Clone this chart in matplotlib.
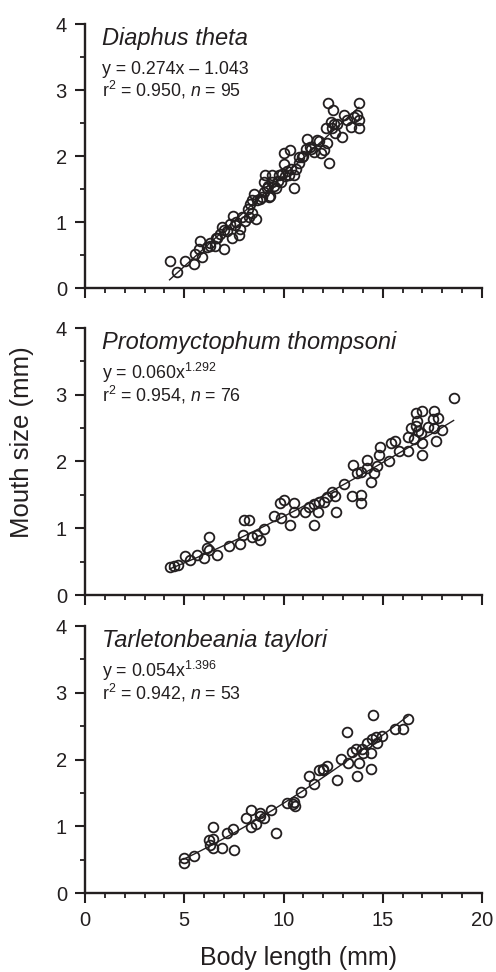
import matplotlib
matplotlib.use("Agg")
import matplotlib.pyplot as plt
import numpy as np

plt.rcParams['font.family'] = ['Liberation Sans', 'DejaVu Sans']
plt.rcParams['mathtext.fontset'] = 'custom'
plt.rcParams['mathtext.rm'] = 'Liberation Sans'
plt.rcParams['mathtext.it'] = 'Liberation Sans:italic'

INK = '#231f20'

# ---------------- data ----------------
species = ["Diaphus theta", "Protomyctophum thompsoni", "Tarletonbeania taylori"]
eq_line1 = ["y = 0.274x \u2013 1.043", "y = 0.060x$^{1.292}$", "y = 0.054x$^{1.396}$"]
eq_line2 = ["r$^{2}$ = 0.950, $n$ = 95", "r$^{2}$ = 0.954, $n$ = 76", "r$^{2}$ = 0.942, $n$ = 53"]

# fit parameters: (kind, a, b)
fit_kind = ["linear", "power", "power"]
fit_a = [0.274, 0.060, 0.054]
fit_b = [-1.043, 1.292, 1.396]

dt_x = [4.26, 4.63, 5.05, 5.47, 5.56, 5.89, 5.81, 5.72, 6.14, 6.31, 6.57, 6.65, 6.82, 6.90,
        6.99, 7.15, 7.41, 7.46, 7.58, 7.74, 7.83, 7.91, 8.08, 8.25, 8.42, 8.59, 8.33, 8.50,
        8.42, 8.67, 8.92, 9.01, 9.09, 9.18, 9.26, 9.34, 9.43, 9.43, 9.60, 9.76, 9.85, 9.93,
        10.02, 10.05, 10.19, 10.27, 10.35, 10.52, 10.61, 10.52, 10.77, 10.94, 11.11, 11.20,
        11.36, 11.53, 11.70, 11.87, 12.04, 12.21, 12.29, 12.12, 12.37, 12.46, 12.54, 12.24,
        12.49, 12.71, 12.96, 13.05, 13.38, 13.55, 13.72, 13.80, 13.80, 13.80,
        6.30, 6.60, 7.00, 7.30, 8.20, 8.80, 9.00, 9.20, 9.50, 9.70, 10.10, 10.40, 10.80,
        11.00, 11.40, 11.80, 12.60, 13.20, 7.60]
dt_y = [0.41, 0.24, 0.41, 0.37, 0.52, 0.47, 0.71, 0.59, 0.62, 0.64, 0.64, 0.76, 0.82, 0.92,
        0.59, 0.87, 0.76, 1.09, 0.96, 0.80, 0.90, 1.08, 1.02, 1.08, 1.13, 1.05, 1.28, 1.42,
        1.33, 1.33, 1.38, 1.61, 1.71, 1.51, 1.38, 1.40, 1.61, 1.71, 1.51, 1.71, 1.61, 1.73,
        1.88, 2.04, 1.78, 1.71, 2.09, 1.71, 1.81, 1.51, 1.99, 1.99, 2.11, 2.25,
        2.14, 2.06, 2.24, 2.04, 2.09, 2.19, 1.90, 2.42, 2.52, 2.42, 2.48, 2.81,
        2.70, 2.49, 2.29, 2.62, 2.44, 2.59, 2.62, 2.80, 2.54, 2.42,
        0.68, 0.75, 0.88, 0.97, 1.20, 1.35, 1.45, 1.55, 1.55, 1.62, 1.70, 1.80, 1.90,
        2.00, 2.10, 2.22, 2.35, 2.55, 1.00]

pt_x = [4.26, 4.46, 4.71, 5.05, 5.30, 5.64, 6.14, 6.23, 6.23, 6.65, 7.24, 7.83, 7.96, 8.00,
        8.25, 8.42, 8.67, 8.84, 9.01, 9.51, 9.80, 9.88, 10.32, 10.52, 10.52, 11.06, 11.28,
        11.53, 11.53, 11.73, 11.78, 12.04, 12.21, 12.46, 12.58, 12.63, 13.05, 13.47, 13.89,
        13.89, 13.72, 13.89, 14.19, 14.19, 14.39, 14.56, 14.73, 14.81, 14.87, 15.32, 15.40,
        15.61, 15.82, 16.25, 16.25, 16.41, 16.58, 16.67, 16.75, 16.67, 17.00, 16.92, 17.00,
        17.00, 17.26, 17.59, 17.51, 17.76, 17.59, 17.68, 18.01, 18.57,
        6.00, 10.00, 13.50, 16.80]
pt_y = [0.42, 0.44, 0.45, 0.58, 0.52, 0.60, 0.70, 0.87, 0.68, 0.60, 0.73, 0.77, 0.90, 1.13,
        1.13, 0.87, 0.90, 0.83, 0.99, 1.19, 1.38, 1.15, 1.05, 1.38, 1.25, 1.25, 1.32,
        1.05, 1.37, 1.25, 1.40, 1.40, 1.47, 1.55, 1.48, 1.25, 1.67, 1.48, 1.50,
        1.38, 1.83, 1.85, 2.02, 1.90, 1.70, 1.83, 1.93, 2.09, 2.22, 2.00, 2.27,
        2.30, 2.15, 2.15, 2.37, 2.50, 2.34, 2.53, 2.60, 2.73, 2.75, 2.43, 2.27,
        2.10, 2.52, 2.75, 2.64, 2.65, 2.50, 2.30, 2.47, 2.95,
        0.55, 1.42, 1.95, 2.45]

tt_x = [4.97, 4.97, 5.51, 6.23, 6.45, 6.45, 6.45, 6.90, 7.15, 7.46, 7.53, 8.11, 8.37, 8.37,
        8.59, 8.84, 9.04, 9.38, 9.60, 10.19, 10.52, 10.56, 10.86, 11.28, 11.53, 11.78, 12.00,
        12.17, 12.71, 12.88, 13.22, 13.25, 13.47, 13.65, 13.69, 13.80, 13.97, 14.19, 14.43,
        14.43, 14.48, 14.53, 14.65, 14.70, 14.98, 15.61, 16.04, 16.28,
        6.30, 8.80, 10.50, 12.00, 14.00]
tt_y = [0.53, 0.45, 0.55, 0.79, 0.81, 0.99, 0.68, 0.68, 0.90, 0.96, 0.65, 1.13, 1.25, 0.99,
        1.03, 1.16, 1.13, 1.25, 0.90, 1.35, 1.36, 1.30, 1.51, 1.76, 1.64, 1.85, 1.86,
        1.90, 1.70, 2.01, 2.41, 1.95, 2.11, 2.15, 1.76, 1.95, 2.15, 2.24, 2.10,
        1.86, 2.30, 2.66, 2.33, 2.24, 2.35, 2.46, 2.46, 2.60,
        0.72, 1.20, 1.33, 1.85, 2.10]

xs = [dt_x, pt_x, tt_x]
ys = [dt_y, pt_y, tt_y]

x_ticks = [0, 5, 10, 15, 20]
y_ticks = [0, 1, 2, 3, 4]

# ---------------- figure ----------------
W, H = 496, 972
fig = plt.figure(figsize=(W / 100, H / 100), dpi=100)

left, right = 85, 482
panels_px = [(24, 288), (328, 595), (626, 893)]  # (top, bottom) in pixels

for i, (top, bot) in enumerate(panels_px):
    ax = fig.add_axes([left / W, 1 - bot / H, (right - left) / W, (bot - top) / H])
    ax.set_xlim(0, 20)
    ax.set_ylim(0, 4)
    for s in ['top', 'right']:
        ax.spines[s].set_visible(False)
    for s in ['left', 'bottom']:
        ax.spines[s].set_linewidth(1.7)
        ax.spines[s].set_color(INK)
    ax.set_xticks(x_ticks)
    ax.set_xticks(np.arange(0, 21, 1), minor=True)
    ax.set_yticks(y_ticks)
    ax.set_yticks(np.arange(0, 4.01, 0.5), minor=True)
    ax.tick_params(which='major', direction='out', length=7, width=1.5, color=INK,
                   labelsize=14.5, labelcolor=INK, pad=6)
    ax.tick_params(which='minor', direction='out', length=3.5, width=1.3, color=INK)
    if i < 2:
        ax.tick_params(axis='x', which='both', labelbottom=False)

    x = np.array(xs[i])
    y = np.array(ys[i])
    ax.plot(x, y, linestyle='none', marker='o', ms=7, mfc='none', mec=INK, mew=1.3,
            clip_on=False, zorder=3)

    xf = np.linspace(x.min(), x.max(), 200)
    if fit_kind[i] == "linear":
        yf = fit_a[i] * xf + fit_b[i]
    else:
        yf = fit_a[i] * xf ** fit_b[i]
    ax.plot(xf, yf, color=INK, lw=1.0, zorder=2)

    ax.text(0.043, 0.92, species[i], transform=ax.transAxes, style='italic',
            fontsize=17, color=INK, va='baseline', ha='left')
    ax.text(0.043, 0.81, eq_line1[i], transform=ax.transAxes, fontsize=12.8,
            color=INK, va='baseline', ha='left')
    ax.text(0.043, 0.725, eq_line2[i], transform=ax.transAxes, fontsize=12.8,
            color=INK, va='baseline', ha='left')

fig.text(22 / W, 1 - 442 / H, "Mouth size (mm)", rotation=90, ha='center', va='center',
         fontsize=18.5, color=INK)
fig.text(299 / W, 1 - 958 / H, "Body length (mm)", ha='center', va='center',
         fontsize=18, color=INK)

fig.savefig("out.png", dpi=100)
